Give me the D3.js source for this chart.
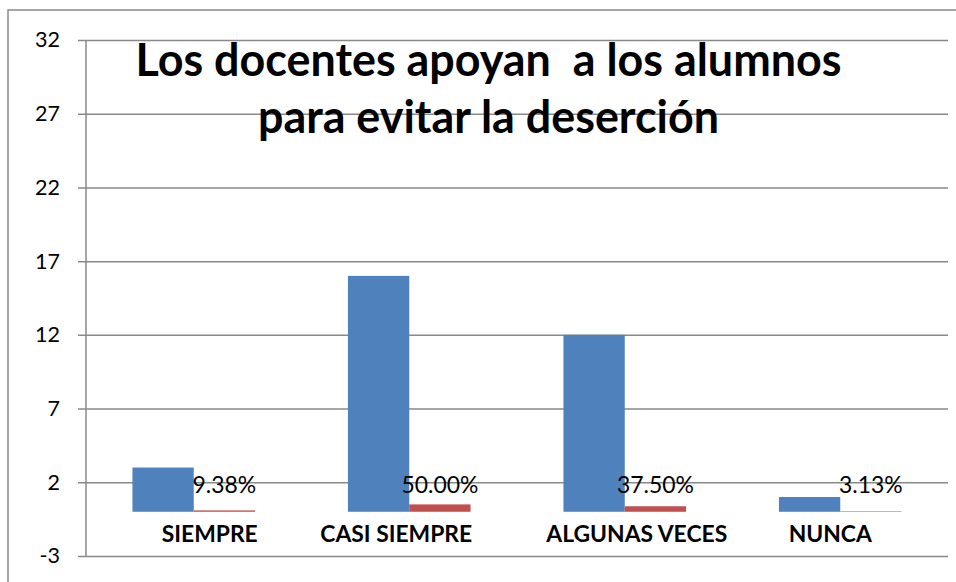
<!DOCTYPE html>
<html>
<head>
<meta charset="utf-8">
<script src="https://cdn.jsdelivr.net/npm/d3@7"></script>
<style>
  html, body { margin: 0; padding: 0; background: #fff; }
  svg { display: block; }
  text { font-family: Lato, "Noto Sans", sans-serif; }
</style>
</head>
<body>
<svg id="chart" width="956" height="582"></svg>
<script>
// ---- data ----
const categories = ["SIEMPRE", "CASI SIEMPRE", "ALGUNAS VECES", "NUNCA"];
const counts = [3, 16, 12, 1];
const percents = [0.09375, 0.5, 0.375, 0.03125];
const percentLabels = ["9.38%", "50.00%", "37.50%", "3.13%"];
const yTicks = [-3, 2, 7, 12, 17, 22, 27, 32];
const titleLines = ["Los docentes apoyan  a los alumnos", "para evitar la deserción"];

// ---- layout ----
const W = 956, H = 582;
const plot = { left: 86, right: 948, top: 40, bottom: 556 };
const catLabelShift = [16, -13, 12, -10];
const blue = "#4F81BD", red = "#C0504D", grid = "#898989";

const svg = d3.select("#chart");

// outer chart border
svg.append("rect")
  .attr("x", 8).attr("y", 10)
  .attr("width", W + 10).attr("height", H + 10)
  .attr("fill", "#fff").attr("stroke", grid).attr("stroke-width", 1.5);

const y = d3.scaleLinear().domain([-3, 32]).range([plot.bottom, plot.top]);
const x0 = d3.scaleBand().domain(categories)
  .range([plot.left, plot.right]).paddingInner(0.431).paddingOuter(0.2155);
const x1 = d3.scaleBand().domain(["count", "pct"]).range([0, x0.bandwidth()]);

// gridlines + ticks
const yAxis = d3.axisLeft(y).tickValues(yTicks)
  .tickSize(-(plot.right - plot.left)).tickPadding(26).tickFormat(d => String(d));
const ga = svg.append("g").attr("transform", `translate(${plot.left},0)`).call(yAxis);
ga.select(".domain").remove();
ga.selectAll(".tick line").attr("stroke", grid).attr("stroke-width", 1.5)
  .attr("x1", -8);
ga.selectAll(".tick text")
  .attr("fill", "#000").style("font-size", "22px")
  .attr("font-family", "Lato, 'Noto Sans', sans-serif");
// vertical axis line
svg.append("line")
  .attr("x1", plot.left).attr("x2", plot.left)
  .attr("y1", y(32)).attr("y2", y(-3))
  .attr("stroke", grid).attr("stroke-width", 1.5);

// bars
const groups = svg.append("g").selectAll("g").data(categories).join("g")
  .attr("transform", d => `translate(${x0(d)},0)`);
groups.append("rect")
  .attr("x", x1("count")).attr("width", x1.bandwidth())
  .attr("y", (d, i) => y(counts[i]))
  .attr("height", (d, i) => y(0) - y(counts[i]))
  .attr("fill", blue);
groups.append("rect")
  .attr("x", x1("pct")).attr("width", x1.bandwidth())
  .attr("y", (d, i) => y(percents[i]))
  .attr("height", (d, i) => Math.max(0.5, y(0) - y(percents[i])))
  .attr("fill", red);

// data labels
groups.append("text")
  .attr("x", x1("pct") + x1.bandwidth() / 2)
  .attr("y", y(0) - 19)
  .attr("text-anchor", "middle")
  .style("font-size", "23px")
  .attr("fill", "#000")
  .text((d, i) => percentLabels[i]);

// category labels
groups.append("text")
  .attr("x", (d, i) => x0.bandwidth() / 2 + catLabelShift[i])
  .attr("y", y(0) + 30)
  .attr("text-anchor", "middle")
  .style("font-size", "22px").style("font-weight", "bold")
  .attr("fill", "#000")
  .text(d => d);

// title
const title = svg.append("g");
title.selectAll("text").data(titleLines).join("text")
  .attr("x", 488.5)
  .attr("y", (d, i) => 76 + i * 57.3)
  .attr("text-anchor", "middle")
  .style("font-size", "40px").style("font-weight", "bold")
  .attr("fill", "#000")
  .attr("xml:space", "preserve")
  .style("white-space", "pre")
  .text(d => d);

// fit font sizes to widths measured on the reference
function fit(sel, sample, target) {
  const nodes = sel.nodes();
  const n = nodes.find(t => t.textContent === sample);
  if (!n) return;
  const cur = parseFloat(n.style.fontSize);
  const w = n.getComputedTextLength();
  const size = cur * target / w;
  sel.style("font-size", size.toFixed(2) + "px");
}
fit(title.selectAll("text"), titleLines[0], 706);
fit(groups.selectAll("text").filter(function () { return this.textContent.includes("%"); }), "50.00%", 77);
fit(groups.selectAll("text").filter(function () { return !this.textContent.includes("%"); }), "CASI SIEMPRE", 152);
fit(ga.selectAll(".tick text"), "12", 25);
</script>
</body>
</html>
